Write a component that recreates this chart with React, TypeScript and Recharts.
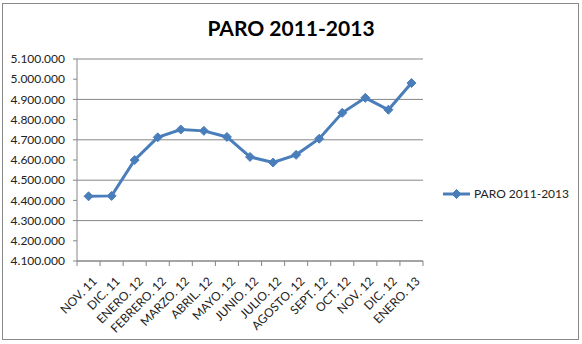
import { CartesianGrid, Line, LineChart, XAxis, YAxis } from 'recharts';

const MONTHS = [
  'NOV. 11', 'DIC. 11', 'ENERO. 12', 'FEBRERO. 12', 'MARZO. 12', 'ABRIL. 12', 'MAYO. 12',
  'JUNIO. 12', 'JULIO. 12', 'AGOSTO. 12', 'SEPT. 12', 'OCT. 12', 'NOV. 12', 'DIC. 12', 'ENERO. 13',
];
const PARO = [
  4420462, 4422359, 4599829, 4712098, 4750867, 4744235, 4714122,
  4615269, 4587455, 4625634, 4705279, 4833521, 4907817, 4848723, 4980778,
];
const Y_TICKS = [
  4100000, 4200000, 4300000, 4400000, 4500000, 4600000,
  4700000, 4800000, 4900000, 5000000, 5100000,
];
const SERIES_NAME = 'PARO 2011-2013';

const BLUE = '#4a7ebb';
const GRID = '#868686';
const FONT = 'Lato, "Open Sans", sans-serif';

const W = 582;
const H = 344;
const PLOT_LEFT = 77;
const PLOT_RIGHT = 423;
const STEP = (PLOT_RIGHT - PLOT_LEFT) / MONTHS.length;

const data = MONTHS.map((m, i) => ({ month: m, paro: PARO[i] }));

// 4100000 -> "4.100.000"
function fmt(v: number) {
  return String(v).replace(/\B(?=(\d{3})+(?!\d))/g, '.');
}

function Diamond(props: any) {
  const { cx, cy } = props;
  if (cx == null || cy == null) return null;
  const r = 4.5;
  return (
    <path
      d={`M${cx},${cy - r} L${cx + r},${cy} L${cx},${cy + r} L${cx - r},${cy} Z`}
      fill={BLUE}
      stroke={BLUE}
      strokeWidth={1}
    />
  );
}

function MonthTick(props: any) {
  const { x, y, payload, index } = props;
  const last = index === MONTHS.length - 1;
  const tx = x + 6;
  const ty = y + 10;
  return (
    <g>
      <line x1={x - STEP / 2} x2={x - STEP / 2} y1={y - 8} y2={y - 3} stroke={GRID} />
      {last && <line x1={x + STEP / 2} x2={x + STEP / 2} y1={y - 8} y2={y - 3} stroke={GRID} />}
      <text
        x={tx}
        y={ty}
        transform={`rotate(-45, ${tx}, ${ty})`}
        textAnchor="end"
        dominantBaseline="central"
        fontFamily={FONT}
        fontSize={12}
        fill="#222"
      >
        {payload.value}
      </text>
    </g>
  );
}

function LegendBox() {
  return (
    <div
      style={{
        position: 'absolute',
        left: 442,
        top: 186,
        display: 'flex',
        alignItems: 'center',
        fontFamily: FONT,
        fontSize: 12,
        color: '#222',
      }}
    >
      <svg width={30} height={12}>
        <line x1={1} x2={28} y1={6} y2={6} stroke={BLUE} strokeWidth={3} />
        <Diamond cx={14.5} cy={6} />
      </svg>
      <span style={{ marginLeft: 2 }}>{SERIES_NAME}</span>
    </div>
  );
}

export default function App() {
  return (
    <div style={{ position: 'fixed', left: 0, top: 0, width: W, height: H, background: '#fff' }}>
      <div
        style={{
          position: 'absolute',
          left: 2,
          top: 3,
          width: 575,
          height: 335,
          border: '1px solid #8a8a8a',
        }}
      />
      <div
        style={{
          position: 'absolute',
          left: 0,
          width: W,
          top: 15,
          textAlign: 'center',
          fontFamily: FONT,
          fontWeight: 700,
          fontSize: 21,
          color: '#000',
        }}
      >
        {SERIES_NAME}
      </div>
      <LineChart
        width={W}
        height={H}
        data={data}
        margin={{ top: 59, right: W - PLOT_RIGHT, bottom: 0, left: 0 }}
      >
        <CartesianGrid vertical={false} stroke={GRID} />
        <XAxis
          dataKey="month"
          interval={0}
          height={83}
          stroke={GRID}
          tickLine={false}
          tick={<MonthTick />}
          padding={{ left: STEP / 2, right: STEP / 2 }}
        />
        <YAxis
          width={PLOT_LEFT}
          domain={[4100000, 5100000]}
          ticks={Y_TICKS}
          tickFormatter={fmt}
          stroke={GRID}
          tickSize={4}
          tickMargin={8}
          tick={{ fontFamily: FONT, fontSize: 12, fill: '#222' }}
          allowDataOverflow
        />
        <Line
          type="linear"
          dataKey="paro"
          name={SERIES_NAME}
          stroke={BLUE}
          strokeWidth={3}
          dot={<Diamond />}
          activeDot={false}
          isAnimationActive={false}
        />
      </LineChart>
      <LegendBox />
    </div>
  );
}
